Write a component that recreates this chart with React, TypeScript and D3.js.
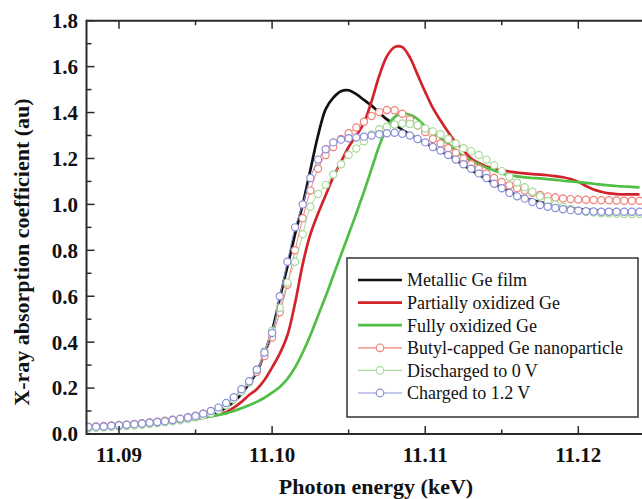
import React from "react";
import * as d3 from "d3";

// Photon energy grid (keV), 0.0005 keV step
const energy: number[] = Array.from({ length: 73 }, (_, i) => +(11.088 + 0.0005 * i).toFixed(4));

const metallic: number[] = [
  0.03, 0.032, 0.034, 0.036, 0.038, 0.04, 0.042, 0.045, 0.048, 0.051,
  0.055, 0.058, 0.062, 0.066, 0.071, 0.077, 0.084, 0.095, 0.115, 0.14,
  0.175, 0.22, 0.27, 0.35, 0.45, 0.59, 0.73, 0.87, 1.0, 1.15,
  1.3, 1.415, 1.465, 1.493, 1.497, 1.48, 1.455, 1.43, 1.4, 1.37,
  1.348, 1.325, 1.305, 1.285, 1.268, 1.25, 1.233, 1.213, 1.195, 1.17,
  1.15, 1.13, 1.11, 1.09, 1.072, 1.055, 1.04, 1.028, 1.018, 1.01,
  1.003, 0.997, 0.99, 0.985, 0.98, 0.977, 0.975, 0.973, 0.972, 0.971,
  0.97, 0.97, 0.97,
];

const partial: number[] = [
  0.025, 0.027, 0.029, 0.031, 0.033, 0.035, 0.037, 0.04, 0.043, 0.046,
  0.05, 0.053, 0.057, 0.061, 0.066, 0.071, 0.077, 0.085, 0.095, 0.115,
  0.14, 0.17, 0.195, 0.235, 0.29, 0.35, 0.43, 0.57, 0.74, 0.87,
  0.96, 1.04, 1.12, 1.185, 1.25, 1.3, 1.355, 1.45, 1.56, 1.645,
  1.685, 1.685, 1.64, 1.565, 1.49, 1.42, 1.365, 1.315, 1.27, 1.235,
  1.2, 1.18, 1.165, 1.155, 1.148, 1.143, 1.138, 1.135, 1.132, 1.13,
  1.127, 1.123, 1.118, 1.11, 1.098, 1.08, 1.065, 1.055, 1.048, 1.045,
  1.044, 1.044, 1.044,
];

const fully: number[] = [
  0.025, 0.027, 0.029, 0.031, 0.033, 0.035, 0.037, 0.04, 0.043, 0.046,
  0.05, 0.053, 0.057, 0.061, 0.066, 0.071, 0.077, 0.083, 0.09, 0.1,
  0.112, 0.125, 0.14, 0.158, 0.18, 0.205, 0.24, 0.29, 0.355, 0.43,
  0.515, 0.6, 0.69, 0.78, 0.87, 0.96, 1.055, 1.155, 1.255, 1.335,
  1.38, 1.397, 1.39, 1.372, 1.34, 1.315, 1.29, 1.265, 1.235, 1.21,
  1.19, 1.175, 1.16, 1.148, 1.135, 1.127, 1.122, 1.118, 1.115, 1.113,
  1.11, 1.107, 1.103, 1.1, 1.097, 1.094, 1.09, 1.086, 1.083, 1.08,
  1.078, 1.076, 1.074,
];

const butyl: number[] = [
  0.032, 0.033, 0.035, 0.037, 0.039, 0.041, 0.044, 0.047, 0.05, 0.054,
  0.058, 0.062, 0.067, 0.073, 0.08, 0.088, 0.098, 0.112, 0.13, 0.155,
  0.19, 0.225, 0.27, 0.34, 0.42, 0.53, 0.65, 0.8, 0.94, 1.06,
  1.155, 1.215, 1.25, 1.285, 1.31, 1.335, 1.36, 1.385, 1.402, 1.411,
  1.41, 1.395, 1.37, 1.343, 1.315, 1.285, 1.265, 1.245, 1.225, 1.2,
  1.175, 1.155, 1.135, 1.115, 1.098, 1.083, 1.07, 1.06, 1.05, 1.041,
  1.035, 1.03, 1.026, 1.023, 1.021, 1.02, 1.019, 1.018, 1.018, 1.017,
  1.016, 1.016, 1.016,
];

const discharged: number[] = [
  0.025, 0.027, 0.029, 0.031, 0.033, 0.035, 0.037, 0.04, 0.043, 0.047,
  0.051, 0.055, 0.06, 0.065, 0.072, 0.08, 0.09, 0.105, 0.125, 0.15,
  0.185, 0.225, 0.28, 0.36, 0.45, 0.55, 0.66, 0.75, 0.87, 0.99,
  1.045, 1.085, 1.13, 1.175, 1.215, 1.243, 1.275, 1.305, 1.327, 1.338,
  1.348, 1.352, 1.35, 1.345, 1.33, 1.318, 1.306, 1.285, 1.265, 1.245,
  1.232, 1.215, 1.195, 1.17, 1.145, 1.12, 1.095, 1.075, 1.055, 1.034,
  1.015, 1.0, 0.99, 0.98, 0.973, 0.968, 0.964, 0.961, 0.96, 0.959,
  0.958, 0.958, 0.958,
];

const charged: number[] = [
  0.03, 0.032, 0.033, 0.036, 0.038, 0.04, 0.043, 0.046, 0.049, 0.052,
  0.056, 0.061, 0.066, 0.072, 0.078, 0.088, 0.1, 0.115, 0.135, 0.16,
  0.195, 0.23, 0.28, 0.355, 0.44, 0.6, 0.75, 0.9, 1.0, 1.115,
  1.195, 1.24, 1.27, 1.282, 1.288, 1.291, 1.295, 1.3, 1.306, 1.31,
  1.312, 1.308, 1.3, 1.285, 1.27, 1.25, 1.235, 1.215, 1.195, 1.175,
  1.155, 1.135, 1.115, 1.09, 1.07, 1.05, 1.035, 1.025, 1.01, 0.997,
  0.99, 0.984, 0.979, 0.975, 0.972, 0.97, 0.969, 0.968, 0.968, 0.968,
  0.968, 0.968, 0.968,
];

const xMajorTicks = [11.09, 11.1, 11.11, 11.12];
const xMinorTicks = [11.095, 11.105, 11.115];
const yMajorTicks = [0, 0.2, 0.4, 0.6, 0.8, 1.0, 1.2, 1.4, 1.6, 1.8];
const yMinorTicks = [0.1, 0.3, 0.5, 0.7, 0.9, 1.1, 1.3, 1.5, 1.7];

const lineSeries = [
  { name: "Metallic Ge film", values: metallic, color: "#111111" },
  { name: "Partially oxidized Ge", values: partial, color: "#d2232a" },
  { name: "Fully oxidized Ge", values: fully, color: "#4fbf45" },
];
const markerSeries = [
  { name: "Butyl-capped Ge nanoparticle", values: butyl, color: "#ee8279" },
  { name: "Discharged to 0 V", values: discharged, color: "#a9da9c" },
  { name: "Charged to 1.2 V", values: charged, color: "#8b8fd6" },
];

const W = 642;
const H = 499;
const L = 86.5;
const R = 642;
const T = 20.7;
const B = 434;

export default function App() {
  const x = d3.scaleLinear().domain([11.09, 11.12]).range([119, 578.3]);
  const y = d3.scaleLinear().domain([0, 1.8]).range([B, T]);
  const line = (vals: number[]) =>
    d3
      .line<number>()
      .x((_, i) => x(energy[i]))
      .y((v) => y(v))
      .curve(d3.curveCatmullRom)(vals) || "";

  const font = "Liberation Serif, Times New Roman, serif";
  const axisColor = "#2a2a2a";
  const legendRows = [...lineSeries, ...markerSeries];

  return (
    <svg
      width={W}
      height={H}
      style={{ position: "absolute", left: 0, top: 0, background: "#fff" }}
      fontFamily={font}
    >
      <defs>
        <clipPath id="plot">
          <rect x={L} y={T - 2} width={R - L} height={B - T + 2} />
        </clipPath>
      </defs>
      <rect x={0} y={0} width={W} height={H} fill="#fff" />

      <g clipPath="url(#plot)">
        {lineSeries.map((s) => (
          <path key={s.name} d={line(s.values)} fill="none" stroke={s.color} strokeWidth={2.7} />
        ))}
        {markerSeries.map((s) => (
          <g key={s.name}>
            <path d={line(s.values)} fill="none" stroke={s.color} strokeWidth={1} />
            {s.values.map((v, i) => (
              <circle key={i} cx={x(energy[i])} cy={y(v)} r={3.6} fill="#fff" stroke={s.color} strokeWidth={1.2} />
            ))}
          </g>
        ))}
      </g>

      {/* frame */}
      <line x1={L} x2={R} y1={B} y2={B} stroke={axisColor} strokeWidth={2} />
      <line x1={L} x2={R} y1={T} y2={T} stroke={axisColor} strokeWidth={2} />
      <line x1={L} x2={L} y1={T - 1} y2={B + 1} stroke={axisColor} strokeWidth={2} />

      {/* x ticks */}
      {xMajorTicks.map((t) => (
        <g key={"xM" + t}>
          <line x1={x(t)} x2={x(t)} y1={B} y2={B - 8} stroke={axisColor} strokeWidth={1.5} />
          <line x1={x(t)} x2={x(t)} y1={T} y2={T + 8} stroke={axisColor} strokeWidth={1.5} />
          <text x={x(t)} y={462} textAnchor="middle" fontSize={21} fontWeight="bold" fill="#111">
            {t.toFixed(2)}
          </text>
        </g>
      ))}
      {xMinorTicks.map((t) => (
        <g key={"xm" + t}>
          <line x1={x(t)} x2={x(t)} y1={B} y2={B - 4.5} stroke={axisColor} strokeWidth={1.5} />
          <line x1={x(t)} x2={x(t)} y1={T} y2={T + 4.5} stroke={axisColor} strokeWidth={1.5} />
        </g>
      ))}

      {/* y ticks */}
      {yMajorTicks.map((t) => (
        <g key={"yM" + t}>
          <line x1={L} x2={L + 8} y1={y(t)} y2={y(t)} stroke={axisColor} strokeWidth={1.5} />
          <text x={78} y={y(t)} dy="0.35em" textAnchor="end" fontSize={21} fontWeight="bold" fill="#111">
            {t.toFixed(1)}
          </text>
        </g>
      ))}
      {yMinorTicks.map((t) => (
        <line key={"ym" + t} x1={L} x2={L + 5} y1={y(t)} y2={y(t)} stroke={axisColor} strokeWidth={1.5} />
      ))}

      {/* axis titles */}
      <text x={376} y={494} textAnchor="middle" fontSize={22} fontWeight="bold" fill="#111">
        Photon energy (keV)
      </text>
      <text
        transform="translate(29,252) rotate(-90)"
        textAnchor="middle"
        fontSize={22}
        fontWeight="bold"
        fill="#111"
      >
        X-ray absorption coefficient (au)
      </text>

      {/* legend */}
      <rect x={347} y={258} width={291} height={159} fill="#fff" stroke="#333" strokeWidth={1.5} />
      {legendRows.map((s, i) => {
        const ry = 280 + i * 22.6;
        const isMarker = i >= 3;
        return (
          <g key={"lg" + s.name}>
            <line x1={358} x2={402} y1={ry} y2={ry} stroke={s.color} strokeWidth={isMarker ? 1.2 : 2.7} />
            {isMarker && <circle cx={380} cy={ry} r={3.8} fill="#fff" stroke={s.color} strokeWidth={1.2} />}
            <text x={407} y={ry} dy="0.35em" fontSize={18} fill="#111">
              {s.name}
            </text>
          </g>
        );
      })}
    </svg>
  );
}
